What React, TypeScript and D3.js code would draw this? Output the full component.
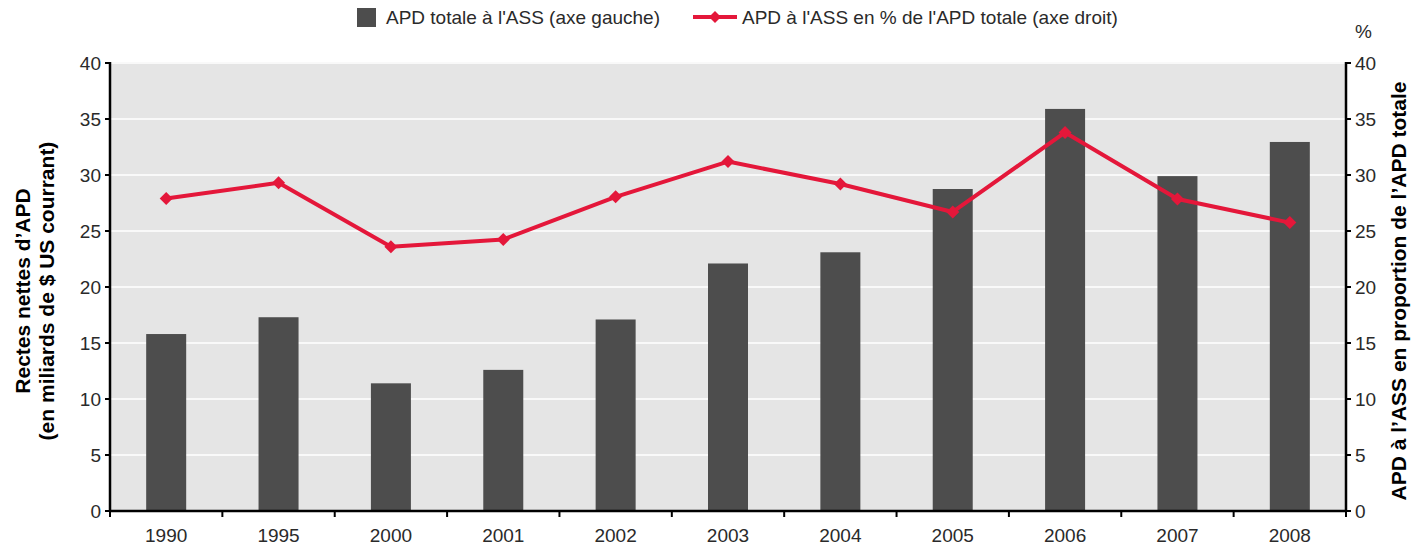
import React from "react";
import * as d3 from "d3";

const years = ["1990", "1995", "2000", "2001", "2002", "2003", "2004", "2005", "2006", "2007", "2008"];
const apdTotale = [15.8, 17.3, 11.4, 12.6, 17.1, 22.1, 23.1, 28.75, 35.9, 29.9, 32.95];
const apdPourcent = [27.9, 29.3, 23.6, 24.25, 28.05, 31.2, 29.2, 26.7, 33.8, 27.85, 25.75];
const yTicks = [0, 5, 10, 15, 20, 25, 30, 35, 40];

const width = 1420;
const height = 546;
const margin = { top: 63, right: 74, bottom: 35, left: 110 };
const font = "'Liberation Sans', Arial, sans-serif";
const barColor = "#4d4d4d";
const lineColor = "#e4173a";

function Diamond({ x, y, r }: { x: number; y: number; r: number }) {
  return <path d={`M${x},${y - r}L${x + r},${y}L${x},${y + r}L${x - r},${y}Z`} fill={lineColor} />;
}

export default function App() {
  const x0 = margin.left;
  const x1 = width - margin.right;
  const y0 = height - margin.bottom;

  const x = d3.scaleBand().domain(years).range([x0, x1]).paddingInner(0.644).paddingOuter(0.322);
  const step = x.step();
  const yLeft = d3.scaleLinear().domain([0, 40]).range([y0, margin.top]);
  const yRight = d3.scaleLinear().domain([0, 40]).range([y0, margin.top]);
  const cx = (d: string) => (x(d) as number) + x.bandwidth() / 2;

  const line = d3
    .line<number>()
    .x((_, i) => cx(years[i]))
    .y((d) => yRight(d));

  const titleY = (margin.top + y0) / 2 + 4;

  return (
    <svg
      width={width}
      height={height}
      style={{ position: "absolute", left: 0, top: 0, background: "#fff" }}
      fontFamily={font}
    >
      {/* legende */}
      <rect x={357} y={8} width={19} height={19} fill={barColor} />
      <text x={386} y={24} fontSize={19} fill="#2a2a2a">APD totale à l'ASS (axe gauche)</text>
      <line x1={693} x2={737} y1={17} y2={17} stroke={lineColor} strokeWidth={4} />
      <Diamond x={715} y={17} r={6} />
      <text x={742} y={24} fontSize={19} fill="#2a2a2a">APD à l'ASS en % de l'APD totale (axe droit)</text>

      {/* fond et grille */}
      <rect x={x0} y={yLeft(40) - 1} width={x1 - x0} height={y0 - yLeft(40) + 1} fill="#e5e5e5" />
      {yTicks.slice(1).map((t) => (
        <line key={t} x1={x0} x2={x1} y1={yLeft(t)} y2={yLeft(t)} stroke="#fff" strokeWidth={1.5} />
      ))}

      {/* barres */}
      {years.map((yr, i) => (
        <rect
          key={yr}
          x={x(yr)}
          y={yLeft(apdTotale[i])}
          width={x.bandwidth()}
          height={y0 - yLeft(apdTotale[i])}
          fill={barColor}
        />
      ))}

      {/* ligne */}
      <path d={line(apdPourcent) || ""} fill="none" stroke={lineColor} strokeWidth={4} strokeLinejoin="round" />
      {apdPourcent.map((v, i) => (
        <Diamond key={i} x={cx(years[i])} y={yRight(v)} r={6.5} />
      ))}

      {/* axe gauche */}
      <line x1={x0} x2={x0} y1={yLeft(40) - 1} y2={y0 + 1} stroke="#000" strokeWidth={2.5} />
      {yTicks.map((t) => (
        <g key={t}>
          <line x1={x0 - 5} x2={x0} y1={yLeft(t)} y2={yLeft(t)} stroke="#000" strokeWidth={2} />
          <text x={x0 - 9} y={yLeft(t)} dy="0.35em" textAnchor="end" fontSize={19} fill="#2a2a2a">
            {t}
          </text>
        </g>
      ))}

      {/* axe droit */}
      <line x1={x1} x2={x1} y1={yRight(40) - 1} y2={y0 + 1} stroke="#000" strokeWidth={2.5} />
      {yTicks.map((t) => (
        <g key={t}>
          <line x1={x1} x2={x1 + 5} y1={yRight(t)} y2={yRight(t)} stroke="#000" strokeWidth={2} />
          <text x={x1 + 9} y={yRight(t)} dy="0.35em" textAnchor="start" fontSize={19} fill="#2a2a2a">
            {t}
          </text>
        </g>
      ))}
      <text x={x1 + 9} y={38} fontSize={19} fill="#2a2a2a">%</text>

      {/* axe x */}
      <line x1={x0} x2={x1} y1={y0} y2={y0} stroke="#000" strokeWidth={2.5} />
      {years.map((yr) => (
        <g key={yr}>
          <line
            x1={(x(yr) as number) - (step - x.bandwidth()) / 2}
            x2={(x(yr) as number) - (step - x.bandwidth()) / 2}
            y1={y0}
            y2={y0 + 6}
            stroke="#000"
            strokeWidth={2}
          />
          <text x={cx(yr)} y={542} textAnchor="middle" fontSize={19} fill="#2a2a2a">
            {yr}
          </text>
        </g>
      ))}
      <line x1={x1} x2={x1} y1={y0} y2={y0 + 6} stroke="#000" strokeWidth={2} />

      {/* titres */}
      <text
        transform={`translate(30,${titleY}) rotate(-90)`}
        textAnchor="middle"
        fontSize={21}
        fontWeight="bold"
        fill="#000"
      >
        <tspan x={0} dy={0}>Rectes nettes d’APD</tspan>
        <tspan x={0} dy={24}>(en miliards de $ US courrant)</tspan>
      </text>
      <text
        transform={`translate(1406,${titleY}) rotate(-90)`}
        textAnchor="middle"
        fontSize={21}
        fontWeight="bold"
        fill="#000"
      >
        APD à l’ASS en proportion de l’APD totale
      </text>
    </svg>
  );
}
